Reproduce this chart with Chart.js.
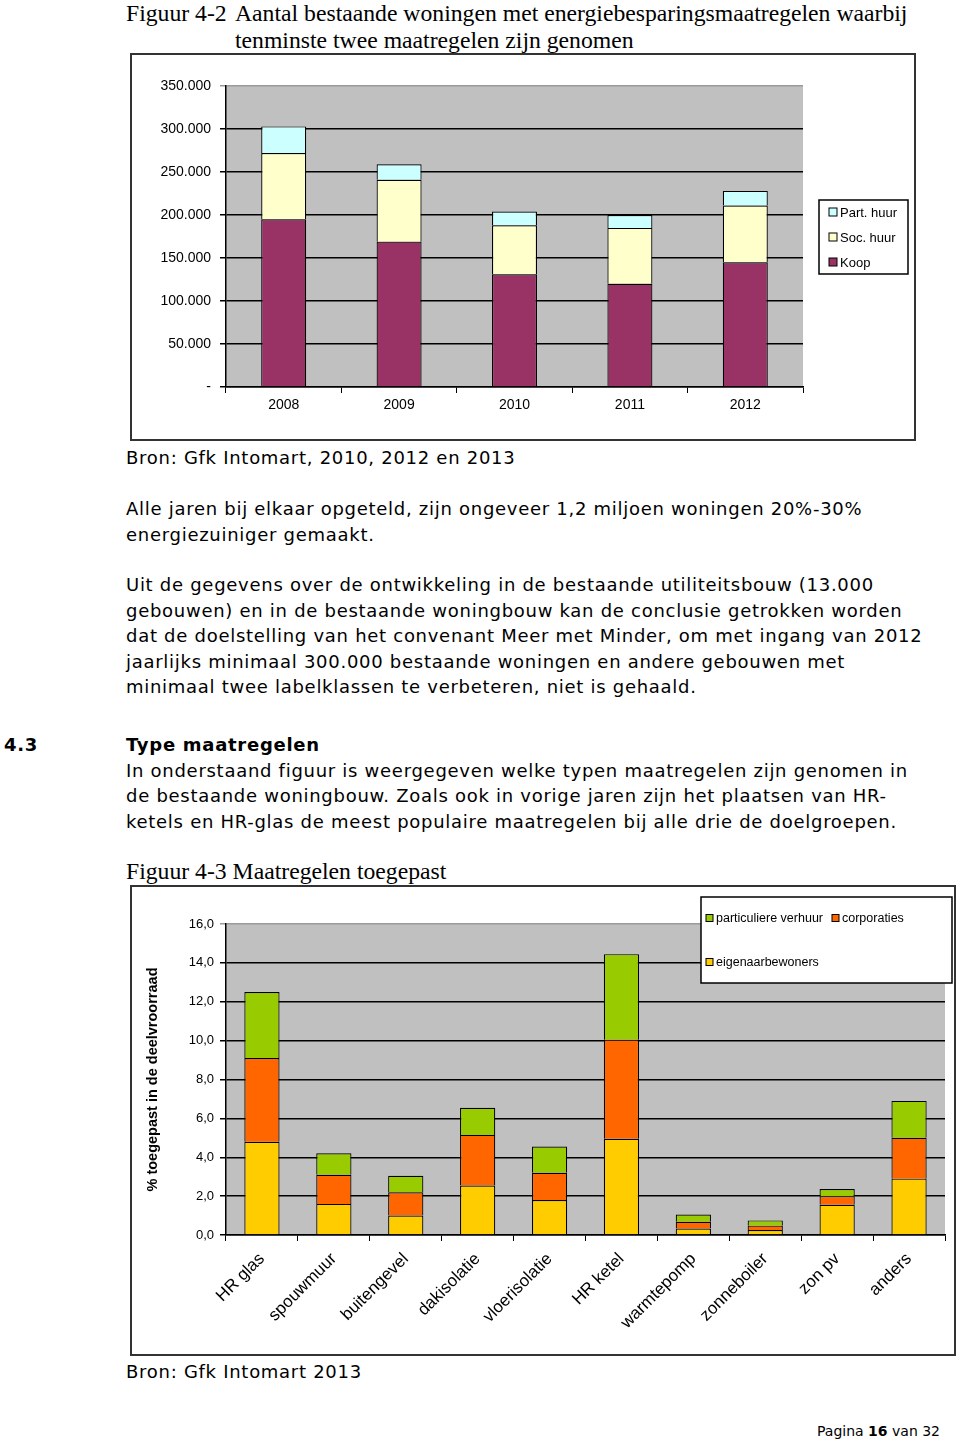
<!DOCTYPE html>
<html lang="nl">
<head>
<meta charset="UTF-8">
<title>Figuur 4-2 en 4-3</title>
<script src="https://cdn.jsdelivr.net/npm/chart.js"></script>
<style>
    body { margin: 0; width: 960px; height: 1442px; position: relative; overflow: hidden; background: #fff; color: #000;
           font-family: "DejaVu Sans", Verdana, sans-serif; font-size: 18px; }
    .abs { position: absolute; white-space: nowrap; }
    .serif { font-family: "Liberation Serif", "Times New Roman", serif; font-size: 23.7px; line-height: 27px; }
    .txt { line-height: 25.6px; letter-spacing: 0.72px; }
    .box { position: absolute; border: 2px solid #333; box-sizing: border-box; }
    canvas { position: absolute; letter-spacing: 0; }
</style>
</head>
<body>
    <div class="abs serif" style="left:126px; top:0px;">Figuur 4-2</div>
    <div class="abs serif" style="left:235px; top:0px;">Aantal bestaande woningen met energiebesparingsmaatregelen waarbij<br>tenminste twee maatregelen zijn genomen</div>

    <div class="box" style="left:130px; top:53px; width:786px; height:388px;"></div>
    <canvas id="woningenChart" width="781" height="383" style="left:132px; top:55px;"></canvas>

    <div class="abs txt" style="left:126px; top:445px;">Bron: Gfk Intomart, 2010, 2012 en 2013</div>

    <div class="abs txt" style="left:126px; top:496px;">Alle jaren bij elkaar opgeteld, zijn ongeveer 1,2 miljoen woningen 20%-30%<br>energiezuiniger gemaakt.</div>

    <div class="abs txt" style="left:126px; top:572px;">Uit de gegevens over de ontwikkeling in de bestaande utiliteitsbouw (13.000<br>gebouwen) en in de bestaande woningbouw kan de conclusie getrokken worden<br>dat de doelstelling van het convenant Meer met Minder, om met ingang van 2012<br>jaarlijks minimaal 300.000 bestaande woningen en andere gebouwen met<br>minimaal twee labelklassen te verbeteren, niet is gehaald.</div>

    <div class="abs txt" style="left:4px; top:732px; font-weight:bold;">4.3</div>
    <div class="abs txt" style="left:126px; top:732px;"><b>Type maatregelen</b><br>In onderstaand figuur is weergegeven welke typen maatregelen zijn genomen in<br>de bestaande woningbouw. Zoals ook in vorige jaren zijn het plaatsen van HR-<br>ketels en HR-glas de meest populaire maatregelen bij alle drie de doelgroepen.</div>

    <div class="abs serif" style="left:126px; top:858px;">Figuur 4-3 Maatregelen toegepast</div>

    <div class="box" style="left:130px; top:885px; width:826px; height:471px;"></div>
    <canvas id="maatregelenChart" width="821" height="466" style="left:132px; top:887px;"></canvas>

    <div class="abs txt" style="left:126px; top:1359px;">Bron: Gfk Intomart 2013</div>

    <div class="abs" style="left:817px; top:1422px; font-size:14px; line-height:18px;">Pagina <b>16</b> van 32</div>

<script>
    // Figuur 4-2: woningen met minimaal twee maatregelen
    const jaren = ['2008', '2009', '2010', '2011', '2012'];
    const koop = [195000, 169000, 131000, 120000, 145000];
    const socHuur = [77000, 72000, 57000, 65000, 66000];
    const partHuur = [31000, 18000, 16000, 15000, 17000];

    // Figuur 4-3: maatregelen toegepast (% van deelvoorraad)
    const maatregelen = ['HR glas', 'spouwmuur', 'buitengevel', 'dakisolatie', 'vloerisolatie',
                         'HR ketel', 'warmtepomp', 'zonneboiler', 'zon pv', 'anders'];
    const eigenaarbewoners = [4.8, 1.6, 1.0, 2.55, 1.8, 4.95, 0.33, 0.26, 1.55, 2.9];
    const corporaties = [4.3, 1.5, 1.2, 2.6, 1.4, 5.1, 0.35, 0.22, 0.45, 2.1];
    const particuliereVerhuur = [3.4, 1.1, 0.85, 1.4, 1.35, 4.4, 0.37, 0.27, 0.37, 1.9];

    Chart.defaults.color = '#000';
    Chart.defaults.font.family = '"Liberation Sans", Arial, sans-serif';

    // grey plot area behind the bars
    const plotBg = {
        id: 'plotBg',
        beforeDraw(chart, args, opts) {
            const { ctx, chartArea: a } = chart;
            ctx.save();
            ctx.fillStyle = opts.color;
            ctx.fillRect(a.left, a.top, a.right - a.left, a.bottom - a.top);
            ctx.restore();
        }
    };

    // legend in a framed box, like the Excel original
    const boxLegend = {
        id: 'boxLegend',
        afterDraw(chart, args, o) {
            const ctx = chart.ctx;
            ctx.save();
            ctx.fillStyle = '#fff';
            ctx.fillRect(o.x, o.y, o.w, o.h);
            ctx.lineWidth = 1.5;
            ctx.strokeStyle = '#000';
            ctx.strokeRect(o.x, o.y, o.w, o.h);
            ctx.font = o.font;
            ctx.textBaseline = 'middle';
            o.items.forEach(it => {
                const ds = chart.data.datasets[it.dataset];
                ctx.fillStyle = ds.backgroundColor;
                ctx.fillRect(it.x, it.y - o.size / 2, o.size, o.size);
                ctx.lineWidth = 1;
                ctx.strokeRect(it.x, it.y - o.size / 2, o.size, o.size);
                ctx.fillStyle = '#000';
                ctx.fillText(ds.label, it.x + o.size + o.gap, it.y + 1);
            });
            ctx.restore();
        }
    };

    function dutchThousands(v) {
        if (v === 0) return '-';
        return String(v).replace(/\B(?=(\d{3})+(?!\d))/g, '.');
    }

    const gridColor = ctx => (ctx.tick && ctx.index === ctx.scale.ticks.length - 1) ? '#9a9a9a' : '#000';

    new Chart(document.getElementById('woningenChart'), {
        type: 'bar',
        data: {
            labels: jaren,
            datasets: [
                { label: 'Koop', data: koop, backgroundColor: '#993366' },
                { label: 'Soc. huur', data: socHuur, backgroundColor: '#FFFFCC' },
                { label: 'Part. huur', data: partHuur, backgroundColor: '#CCFFFF' }
            ]
        },
        options: {
            responsive: false,
            animation: false,
            layout: { padding: { top: 31, right: 110, left: 0, bottom: 0 } },
            datasets: { bar: { borderColor: '#000', borderWidth: 1.2, categoryPercentage: 1, barPercentage: 0.39 } },
            plugins: {
                legend: { display: false },
                tooltip: { enabled: false },
                plotBg: { color: '#c0c0c0' },
                boxLegend: {
                    x: 687, y: 145, w: 89, h: 74, size: 8, gap: 3, font: '13px "Liberation Sans", Arial',
                    items: [
                        { dataset: 2, x: 697, y: 157 },
                        { dataset: 1, x: 697, y: 182 },
                        { dataset: 0, x: 697, y: 207 }
                    ]
                }
            },
            scales: {
                x: {
                    stacked: true,
                    border: { color: '#000', width: 1.5 },
                    grid: { drawOnChartArea: false, tickLength: 6, color: '#000', lineWidth: 1 },
                    ticks: { font: { size: 14 }, padding: 4 },
                    afterFit: s => { s.height = 51; }
                },
                y: {
                    stacked: true,
                    min: 0, max: 350000,
                    border: { color: '#000', width: 1.5 },
                    grid: { color: gridColor, lineWidth: 1.5, tickLength: 6 },
                    ticks: { stepSize: 50000, font: { size: 14 }, padding: 9, callback: v => dutchThousands(v) },
                    afterFit: s => { s.width = 94; }
                }
            }
        },
        plugins: [plotBg, boxLegend]
    });

    new Chart(document.getElementById('maatregelenChart'), {
        type: 'bar',
        data: {
            labels: maatregelen,
            datasets: [
                { label: 'eigenaarbewoners', data: eigenaarbewoners, backgroundColor: '#FFCC00' },
                { label: 'corporaties', data: corporaties, backgroundColor: '#FF6600' },
                { label: 'particuliere verhuur', data: particuliereVerhuur, backgroundColor: '#99CC00' }
            ]
        },
        options: {
            responsive: false,
            animation: false,
            layout: { padding: { top: 37, right: 8, left: 0, bottom: 0 } },
            datasets: { bar: { borderColor: '#000', borderWidth: 1.2, categoryPercentage: 1, barPercentage: 0.49 } },
            plugins: {
                legend: { display: false },
                tooltip: { enabled: false },
                plotBg: { color: '#c0c0c0' },
                boxLegend: {
                    x: 569, y: 10, w: 251, h: 86, size: 7, gap: 3, font: '12.5px "Liberation Sans", Arial',
                    items: [
                        { dataset: 2, x: 574, y: 31 },
                        { dataset: 1, x: 700, y: 31 },
                        { dataset: 0, x: 574, y: 75 }
                    ]
                }
            },
            scales: {
                x: {
                    stacked: true,
                    border: { color: '#000', width: 1.5 },
                    grid: { drawOnChartArea: false, tickLength: 6, color: '#000', lineWidth: 1 },
                    ticks: { font: { size: 17 }, padding: 8, minRotation: 45, maxRotation: 45, autoSkip: false },
                    afterFit: s => { s.height = 118; }
                },
                y: {
                    stacked: true,
                    min: 0, max: 16,
                    border: { color: '#000', width: 1.5 },
                    grid: { color: gridColor, lineWidth: 1.5, tickLength: 6 },
                    ticks: { stepSize: 2, font: { size: 13 }, padding: 6, callback: v => v.toFixed(1).replace('.', ',') },
                    title: { display: true, text: '% toegepast in de deelvroorraad', font: { size: 14.5, weight: 'bold' }, padding: { top: 12, bottom: 0 } },
                    afterFit: s => { s.width = 94; }
                }
            }
        },
        plugins: [plotBg, boxLegend]
    });
</script>
</body>
</html>
